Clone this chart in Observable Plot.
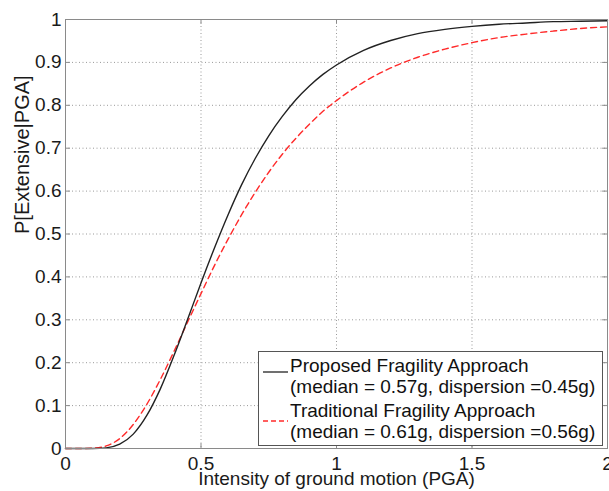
<!DOCTYPE html>
<html>
<head>
<meta charset="utf-8">
<script src="https://cdn.jsdelivr.net/npm/d3@7"></script>
<script src="https://cdn.jsdelivr.net/npm/@observablehq/plot@0.6"></script>
<style>
  html, body { margin: 0; padding: 0; background: #fff; }
  #wrap { position: relative; width: 609px; height: 491px; font-family: "Liberation Sans", Arial, sans-serif; }
  #legend { position: absolute; left: 258px; top: 351px; }
</style>
</head>
<body>
<div id="wrap"></div>
<script>
// Intensity of ground motion (PGA, g)
const pga = [0, 0.05, 0.1, 0.15, 0.2, 0.25, 0.3, 0.35, 0.4, 0.45, 0.5, 0.55, 0.6, 0.65, 0.7, 0.75, 0.8, 0.85, 0.9, 0.95, 1.0,
             1.1, 1.2, 1.3, 1.4, 1.5, 1.6, 1.7, 1.8, 1.9, 2.0];
// Proposed fragility approach (median 0.57g, dispersion 0.45)
const proposed = [0, 0, 0.0001, 0.0015, 0.010, 0.0335, 0.077, 0.139, 0.216, 0.300, 0.386, 0.468, 0.545, 0.615, 0.676, 0.729, 0.774, 0.813, 0.845, 0.872, 0.894,
                  0.928, 0.951, 0.967, 0.977, 0.984, 0.989, 0.992, 0.995, 0.996, 0.997];
// Traditional fragility approach (median 0.61g, dispersion 0.56)
const traditional = [0, 0, 0.0006, 0.006, 0.023, 0.056, 0.103, 0.161, 0.226, 0.294, 0.361, 0.427, 0.488, 0.545, 0.597, 0.644, 0.686, 0.723, 0.756, 0.786, 0.811,
                     0.854, 0.887, 0.912, 0.931, 0.946, 0.958, 0.966, 0.973, 0.979, 0.983];
const xTicks = [0, 0.5, 1, 1.5, 2];
const yTicks = [0, 0.1, 0.2, 0.3, 0.4, 0.5, 0.6, 0.7, 0.8, 0.9, 1];
const xLabel = "Intensity of ground motion (PGA)";
const yLabel = "P[Extensive|PGA]";
const legendLabels = [
  ["Proposed Fragility Approach", "(median = 0.57g, dispersion =0.45g)"],
  ["Traditional Fragility Approach", "(median = 0.61g, dispersion =0.56g)"]
];

const dataP = pga.map((x, i) => ({x, y: proposed[i]}));
const dataT = pga.map((x, i) => ({x, y: traditional[i]}));
const gridX = xTicks.filter(d => d > 0 && d < 2);
const gridY = yTicks.filter(d => d > 0 && d < 1);
const frameColor = "#8a8a8a";
const fmt = d => String(d);
const tx = 0.018, ty = 0.011; // inward tick length in data units

const chart = Plot.plot({
  width: 609,
  height: 491,
  marginLeft: 65,
  marginRight: 2,
  marginTop: 19,
  marginBottom: 43,
  style: { fontFamily: "'Liberation Sans', Arial, sans-serif", fontSize: "19px", color: "#1a1a1a", background: "white" },
  x: { domain: [0, 2] },
  y: { domain: [0, 1] },
  marks: [
    Plot.ruleX(gridX, { stroke: "#999", strokeDasharray: "1,2.5", strokeWidth: 1 }),
    Plot.ruleY(gridY, { stroke: "#999", strokeDasharray: "1,2.5", strokeWidth: 1 }),
    // inward ticks
    Plot.ruleX(xTicks, { y1: 0, y2: ty, stroke: frameColor }),
    Plot.ruleX(xTicks, { y1: 1 - ty, y2: 1, stroke: frameColor }),
    Plot.ruleY(yTicks, { x1: 0, x2: tx, stroke: frameColor }),
    Plot.ruleY(yTicks, { x1: 2 - tx, x2: 2, stroke: frameColor }),
    Plot.axisX(xTicks, { tickSize: 0, tickPadding: 8, fontSize: 19, tickFormat: fmt, label: null }),
    Plot.axisY(yTicks, { tickSize: 0, tickPadding: 4, fontSize: 19, tickFormat: fmt, label: null }),
    Plot.text([xLabel], { text: d => d, frameAnchor: "bottom", dy: 30, lineAnchor: "middle", fontSize: 19, fill: "#1a1a1a" }),
    Plot.text([yLabel], { text: d => d, frameAnchor: "left", dx: -43, rotate: -90, lineAnchor: "middle", fontSize: 20, fill: "#1a1a1a" }),
    Plot.line(dataT, { x: "x", y: "y", stroke: "#ff2a2a", strokeWidth: 1.4, strokeDasharray: "6,4", curve: "monotone-x" }),
    Plot.line(dataP, { x: "x", y: "y", stroke: "#222", strokeWidth: 1.4, curve: "monotone-x" }),
    Plot.frame({ stroke: frameColor })
  ]
});
document.getElementById("wrap").appendChild(chart);

// Legend (drawn as a small SVG box)
const styles = [
  { stroke: "#222", dash: null },
  { stroke: "#ff2a2a", dash: "5,3" }
];
const baselines = [21, 42, 66, 87];
const sampleY = [21, 70];
const lg = d3.create("svg").attr("id", "legend").attr("width", 346).attr("height", 96);
lg.append("rect").attr("x", 0.5).attr("y", 0.5).attr("width", 344).attr("height", 94)
  .attr("fill", "white").attr("stroke", "#555");
legendLabels.forEach((pair, i) => {
  lg.append("line").attr("x1", 5).attr("x2", 30).attr("y1", sampleY[i]).attr("y2", sampleY[i])
    .attr("stroke", styles[i].stroke).attr("stroke-width", 1.3)
    .attr("stroke-dasharray", styles[i].dash);
  pair.forEach((t, j) => {
    lg.append("text").attr("x", 32).attr("y", baselines[i * 2 + j])
      .attr("font-family", "'Liberation Sans', Arial, sans-serif").attr("font-size", 19)
      .attr("fill", "#111").text(t);
  });
});
document.getElementById("wrap").appendChild(lg.node());
</script>
</body>
</html>
